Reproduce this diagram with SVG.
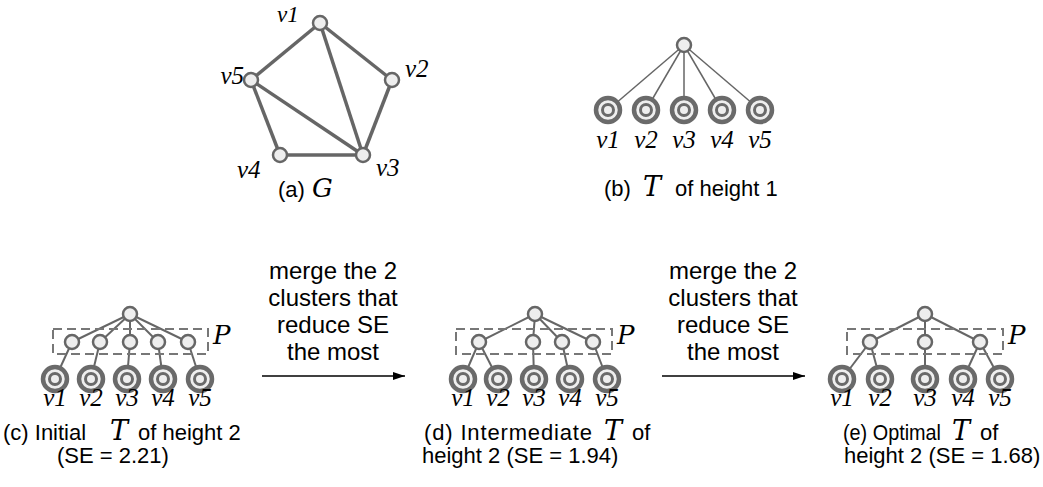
<svg xmlns="http://www.w3.org/2000/svg" width="1043" height="487" viewBox="0 0 1043 487">
<defs>
<style>
.edge{stroke:#666;stroke-width:3.5;fill:none}
.tl{stroke:#666;stroke-width:2;fill:none}
.tlb{stroke:#666;stroke-width:1.5;fill:none}
.nd{fill:#eee;stroke:#666;stroke-width:2.5}
.lo{fill:#eee;stroke:#6a6a6a;stroke-width:4.5}
.li{fill:#eee;stroke:#6a6a6a;stroke-width:3}
.box{fill:none;stroke:#777;stroke-width:2;stroke-dasharray:9 5}
.vl{font-family:"Liberation Serif",serif;font-style:italic;font-size:25px;fill:#000}
.cap{font-family:"Liberation Sans",Arial,sans-serif;font-size:22px;fill:#000}
.mg{font-family:"Liberation Sans",Arial,sans-serif;font-size:24px;fill:#000}
.math{font-family:"DejaVu Serif","Liberation Serif",serif;font-style:italic;font-size:26px;fill:#000}
.mt{font-family:"DejaVu Serif","Liberation Serif",serif;font-style:italic;font-size:27px;fill:#000;text-anchor:middle}
.arr{stroke:#000;stroke-width:1.5;fill:none}
</style>
<marker id="ah" viewBox="0 0 12 8" refX="12" refY="4" markerWidth="12" markerHeight="8" markerUnits="userSpaceOnUse" orient="auto">
<path d="M0,0 L12,4 L0,8 z" fill="#000"/>
</marker>
<g id="leaf"><circle class="lo" r="12"/><circle class="li" r="5.5"/></g>
</defs>
<rect width="1043" height="487" fill="#fff"/>

<g id="connectors">
<line class="edge" x1="320" y1="23" x2="251" y2="80"/>
<line class="edge" x1="320" y1="23" x2="392" y2="80"/>
<line class="edge" x1="320" y1="23" x2="363" y2="155"/>
<line class="edge" x1="251" y1="80" x2="363" y2="155"/>
<line class="edge" x1="251" y1="80" x2="280" y2="155"/>
<line class="edge" x1="280" y1="155" x2="363" y2="155"/>
<line class="edge" x1="392" y1="80" x2="363" y2="155"/>
<line class="tlb" x1="684" y1="45" x2="608" y2="110"/>
<line class="tlb" x1="684" y1="45" x2="646" y2="110"/>
<line class="tlb" x1="684" y1="45" x2="684" y2="110"/>
<line class="tlb" x1="684" y1="45" x2="722" y2="110"/>
<line class="tlb" x1="684" y1="45" x2="760" y2="110"/>
<line class="tl" x1="130" y1="314" x2="72" y2="342"/>
<line class="tl" x1="130" y1="314" x2="100" y2="342"/>
<line class="tl" x1="130" y1="314" x2="130" y2="342"/>
<line class="tl" x1="130" y1="314" x2="158" y2="342"/>
<line class="tl" x1="130" y1="314" x2="188" y2="342"/>
<line class="tl" x1="72" y1="342" x2="55" y2="379"/>
<line class="tl" x1="100" y1="342" x2="91" y2="379"/>
<line class="tl" x1="130" y1="342" x2="127" y2="379"/>
<line class="tl" x1="158" y1="342" x2="163" y2="379"/>
<line class="tl" x1="188" y1="342" x2="200" y2="379"/>
<line class="tl" x1="535" y1="314" x2="479" y2="342"/>
<line class="tl" x1="535" y1="314" x2="533" y2="342"/>
<line class="tl" x1="535" y1="314" x2="562" y2="342"/>
<line class="tl" x1="535" y1="314" x2="593" y2="342"/>
<line class="tl" x1="479" y1="342" x2="463" y2="379"/>
<line class="tl" x1="479" y1="342" x2="498" y2="379"/>
<line class="tl" x1="533" y1="342" x2="534" y2="379"/>
<line class="tl" x1="562" y1="342" x2="570" y2="379"/>
<line class="tl" x1="593" y1="342" x2="607" y2="379"/>
<line class="tl" x1="925" y1="314" x2="870" y2="342"/>
<line class="tl" x1="925" y1="314" x2="925" y2="342"/>
<line class="tl" x1="925" y1="314" x2="980" y2="342"/>
<line class="tl" x1="870" y1="342" x2="842" y2="379"/>
<line class="tl" x1="870" y1="342" x2="880" y2="379"/>
<line class="tl" x1="925" y1="342" x2="925" y2="379"/>
<line class="tl" x1="980" y1="342" x2="963" y2="379"/>
<line class="tl" x1="980" y1="342" x2="1000" y2="379"/>
<line class="arr" x1="262" y1="376" x2="405" y2="376" marker-end="url(#ah)"/>
<line class="arr" x1="662" y1="376" x2="805" y2="376" marker-end="url(#ah)"/>
</g>

<g id="a-v1"><circle class="nd" cx="320" cy="23" r="7"/><text class="vl" x="277" y="22" style="font-size:23px">v1</text></g>
<g id="a-v2"><circle class="nd" cx="392" cy="80" r="7"/><text class="vl" x="405" y="77">v2</text></g>
<g id="a-v3"><circle class="nd" cx="363" cy="155" r="7"/><text class="vl" x="376" y="176">v3</text></g>
<g id="a-v4"><circle class="nd" cx="280" cy="155" r="7"/><text class="vl" x="237" y="178">v4</text></g>
<g id="a-v5"><circle class="nd" cx="251" cy="80" r="7"/><text class="vl" x="244" y="84" text-anchor="end">v5</text></g>
<g id="a-cap"><text class="cap" x="278" y="197">(a)</text><text class="math" x="312" y="197">G</text></g>

<g id="b-root"><circle class="nd" cx="684" cy="45" r="7"/></g>
<g id="b-leaves">
<use href="#leaf" x="608" y="110"/><use href="#leaf" x="646" y="110"/><use href="#leaf" x="684" y="110"/><use href="#leaf" x="722" y="110"/><use href="#leaf" x="760" y="110"/>
<text class="vl" text-anchor="middle" y="148"><tspan x="608">v1</tspan><tspan x="646">v2</tspan><tspan x="684">v3</tspan><tspan x="722">v4</tspan><tspan x="760">v5</tspan></text>
</g>
<g id="b-cap"><text class="cap" x="604" y="196">(b)</text><text class="mt" x="652" y="196">T</text><text class="cap" x="675" y="196">of height 1</text></g>

<g id="c-root"><circle class="nd" cx="130" cy="314" r="7"/></g>
<g id="c-partition">
<rect class="box" x="53" y="329" width="155" height="25"/>
<circle class="nd" cx="72" cy="342" r="7"/><circle class="nd" cx="100" cy="342" r="7"/><circle class="nd" cx="130" cy="342" r="7"/><circle class="nd" cx="158" cy="342" r="7"/><circle class="nd" cx="188" cy="342" r="7"/>
<text class="math" x="213" y="344">P</text>
</g>
<g id="c-leaves">
<use href="#leaf" x="55" y="379"/><use href="#leaf" x="91" y="379"/><use href="#leaf" x="127" y="379"/><use href="#leaf" x="163" y="379"/><use href="#leaf" x="200" y="379"/>
<text class="vl" text-anchor="middle" y="406"><tspan x="55">v1</tspan><tspan x="91">v2</tspan><tspan x="127">v3</tspan><tspan x="163">v4</tspan><tspan x="200">v5</tspan></text>
</g>
<g id="c-cap">
<text class="cap" x="3" y="440">(c) Initial</text><text class="mt" x="119" y="440">T</text><text class="cap" x="138" y="440">of height 2</text>
<text class="cap" x="57" y="463">(SE = 2.21)</text>
</g>

<g id="merge1"><text class="mg" text-anchor="middle"><tspan x="333" y="279">merge the 2</tspan><tspan x="333" y="306">clusters that</tspan><tspan x="333" y="333">reduce SE</tspan><tspan x="333" y="360">the most</tspan></text></g>

<g id="d-root"><circle class="nd" cx="535" cy="314" r="7"/></g>
<g id="d-partition">
<rect class="box" x="456" y="329" width="156" height="25"/>
<circle class="nd" cx="479" cy="342" r="7"/><circle class="nd" cx="533" cy="342" r="7"/><circle class="nd" cx="562" cy="342" r="7"/><circle class="nd" cx="593" cy="342" r="7"/>
<text class="math" x="617" y="344">P</text>
</g>
<g id="d-leaves">
<use href="#leaf" x="463" y="379"/><use href="#leaf" x="498" y="379"/><use href="#leaf" x="534" y="379"/><use href="#leaf" x="570" y="379"/><use href="#leaf" x="607" y="379"/>
<text class="vl" text-anchor="middle" y="406"><tspan x="463">v1</tspan><tspan x="498">v2</tspan><tspan x="534">v3</tspan><tspan x="570">v4</tspan><tspan x="607">v5</tspan></text>
</g>
<g id="d-cap">
<text class="cap" x="424" y="440" textLength="168" lengthAdjust="spacing">(d) Intermediate</text><text class="mt" x="613" y="440">T</text><text class="cap" x="632" y="440">of</text>
<text class="cap" x="422" y="463">height 2 (SE = 1.94)</text>
</g>

<g id="merge2"><text class="mg" text-anchor="middle"><tspan x="733" y="279">merge the 2</tspan><tspan x="733" y="306">clusters that</tspan><tspan x="733" y="333">reduce SE</tspan><tspan x="733" y="360">the most</tspan></text></g>

<g id="e-root"><circle class="nd" cx="925" cy="314" r="7"/></g>
<g id="e-partition">
<rect class="box" x="847" y="329" width="156" height="25"/>
<circle class="nd" cx="870" cy="342" r="7"/><circle class="nd" cx="925" cy="342" r="7"/><circle class="nd" cx="980" cy="342" r="7"/>
<text class="math" x="1008" y="344">P</text>
</g>
<g id="e-leaves">
<use href="#leaf" x="842" y="379"/><use href="#leaf" x="880" y="379"/><use href="#leaf" x="925" y="379"/><use href="#leaf" x="963" y="379"/><use href="#leaf" x="1000" y="379"/>
<text class="vl" text-anchor="middle" y="406"><tspan x="842">v1</tspan><tspan x="880">v2</tspan><tspan x="925">v3</tspan><tspan x="963">v4</tspan><tspan x="1000">v5</tspan></text>
</g>
<g id="e-cap">
<text class="cap" x="843" y="440" textLength="98" lengthAdjust="spacingAndGlyphs">(e) Optimal</text><text class="mt" x="961" y="440">T</text><text class="cap" x="980" y="440">of</text>
<text class="cap" x="844" y="463">height 2 (SE = 1.68)</text>
</g>
</svg>
